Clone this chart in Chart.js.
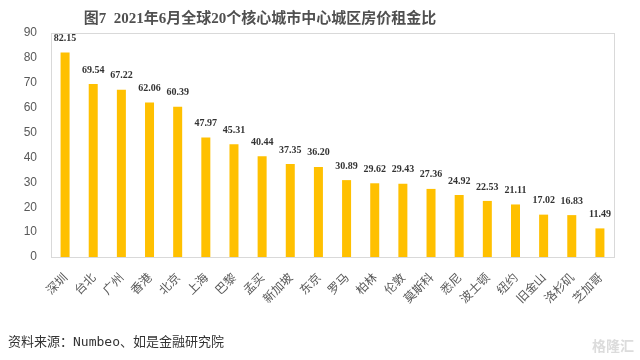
<!DOCTYPE html>
<html lang="zh">
<head>
<meta charset="UTF-8">
<title>房价租金比</title>
<script src="https://cdn.jsdelivr.net/npm/chart.js"></script>
<style>
    body { margin: 0; background: #fff; }
</style>
</head>
<body>
<canvas id="myChart" width="640" height="360"></canvas>
<script>
    // 数据
    const cities = ['深圳', '台北', '广州', '香港', '北京', '上海', '巴黎', '孟买', '新加坡', '东京',
        '罗马', '柏林', '伦敦', '莫斯科', '悉尼', '波士顿', '纽约', '旧金山', '洛杉矶', '芝加哥'];
    const ratios = [82.15, 69.54, 67.22, 62.06, 60.39, 47.97, 45.31, 40.44, 37.35, 36.20,
        30.89, 29.62, 29.43, 27.36, 24.92, 22.53, 21.11, 17.02, 16.83, 11.49];
    const yMax = 90;
    const yStep = 10;

    const titleText = '图7  2021年6月全球20个核心城市中心城区房价租金比';
    const sourceText = '资料来源：Numbeo、如是金融研究院';

    // 边框 + 数值标签 + 标题 + 来源
    const extras = {
        id: 'extras',
        beforeDatasetsDraw(chart) {
            const a = chart.chartArea;
            const ctx = chart.ctx;
            ctx.save();
            ctx.strokeStyle = '#d9d9d9';
            ctx.lineWidth = 1;
            ctx.strokeRect(Math.round(a.left) + 0.5, Math.round(a.top) + 0.5,
                Math.round(a.right - a.left), Math.round(a.bottom - a.top));
            ctx.restore();
        },
        afterDatasetsDraw(chart) {
            const ctx = chart.ctx;
            const meta = chart.getDatasetMeta(0);
            ctx.save();
            ctx.font = 'bold 10px "Liberation Serif"';
            ctx.fillStyle = '#333333';
            ctx.textAlign = 'center';
            ctx.textBaseline = 'middle';
            meta.data.forEach((bar, i) => {
                ctx.fillText(ratios[i].toFixed(2), bar.x, bar.y - 14);
            });

            ctx.font = 'bold 15px "Liberation Serif", "Noto Sans CJK SC"';
            ctx.fillStyle = '#505050';
            ctx.fillText(titleText, 260, 19);

            ctx.textAlign = 'left';
            ctx.font = '13px "DejaVu Sans Mono", "Noto Sans CJK SC"';
            ctx.fillStyle = '#333333';
            ctx.fillText(sourceText, 8, 343);

            ctx.textAlign = 'right';
            ctx.font = 'bold 14px "Noto Sans CJK SC"';
            ctx.fillStyle = '#dcdcdc';
            ctx.fillText('格隆汇', 634, 346);
            ctx.restore();
        }
    };

    new Chart(document.getElementById('myChart'), {
        type: 'bar',
        data: {
            labels: cities,
            datasets: [{
                data: ratios,
                backgroundColor: '#FFC000',
                barPercentage: 0.32,
                categoryPercentage: 1
            }]
        },
        options: {
            responsive: false,
            animation: false,
            layout: { padding: { left: 0, right: 26, top: 33, bottom: 0 } },
            plugins: {
                legend: { display: false },
                tooltip: { enabled: false }
            },
            scales: {
                x: {
                    grid: { display: false, drawTicks: false },
                    border: { display: false },
                    ticks: {
                        minRotation: 45,
                        maxRotation: 45,
                        padding: 13,
                        color: '#595959',
                        font: { family: '"Noto Sans CJK SC"', size: 12 }
                    },
                    afterFit(s) { s.height = 103; }
                },
                y: {
                    min: 0,
                    max: yMax,
                    grid: { display: false, drawTicks: false },
                    border: { display: false },
                    ticks: {
                        stepSize: yStep,
                        padding: 14,
                        color: '#595959',
                        font: { family: '"Liberation Sans"', size: 12 }
                    },
                    afterFit(s) { s.width = 51; }
                }
            }
        },
        plugins: [extras]
    });
</script>
</body>
</html>
